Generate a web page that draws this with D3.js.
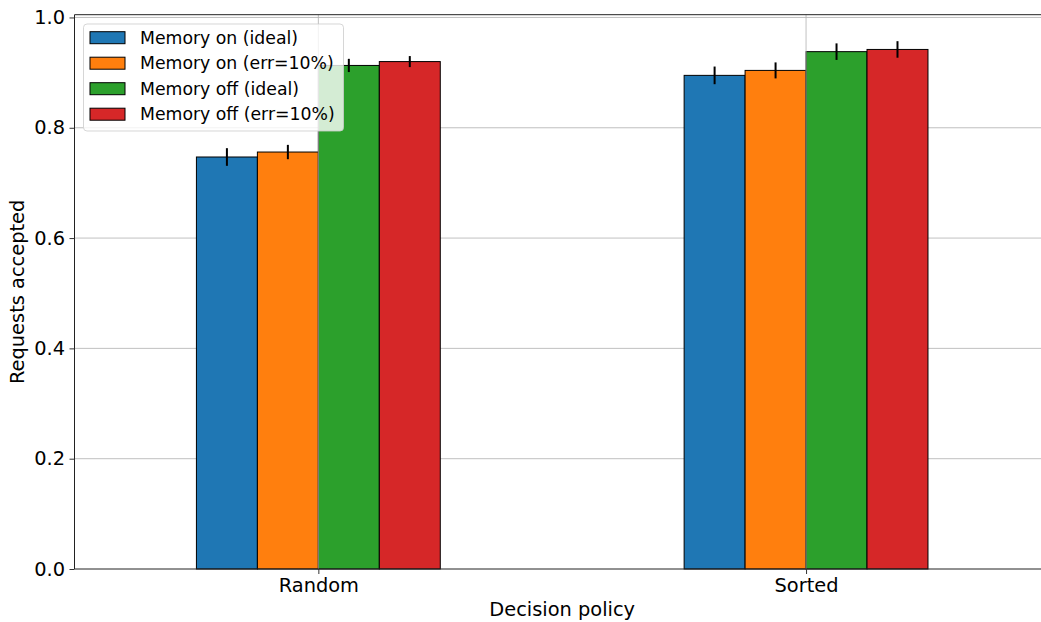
<!DOCTYPE html>
<html>
<head>
<meta charset="utf-8">
<script src="https://cdn.jsdelivr.net/npm/d3@7"></script>
<style>
  html, body { margin: 0; padding: 0; background: #fff; }
  svg { display: block; font-family: "DejaVu Sans", sans-serif; }
</style>
</head>
<body>
<svg id="chart" width="1041" height="622"></svg>
<script>
// Acceptance ratio per decision policy, with standard-deviation error bars
const categories = ["Random", "Sorted"];
const seriesNames = ["Memory on (ideal)", "Memory on (err=10%)", "Memory off (ideal)", "Memory off (err=10%)"];
const seriesColors = ["#1f77b4", "#ff7f0e", "#2ca02c", "#d62728"];

const memoryOnIdeal = [0.747, 0.895];
const memoryOnErr10 = [0.756, 0.904];
const memoryOffIdeal = [0.913, 0.938];
const memoryOffErr10 = [0.920, 0.942];

const memoryOnIdealStd = [0.016, 0.016];
const memoryOnErr10Std = [0.013, 0.0145];
const memoryOffIdealStd = [0.012, 0.015];
const memoryOffErr10Std = [0.010, 0.015];

const yTicks = [0.0, 0.2, 0.4, 0.6, 0.8, 1.0];

const seriesValues = [memoryOnIdeal, memoryOnErr10, memoryOffIdeal, memoryOffErr10];
const seriesStd = [memoryOnIdealStd, memoryOnErr10Std, memoryOffIdealStd, memoryOffErr10Std];

const svg = d3.select("#chart");

// Axes box (right edge extends beyond the visible canvas)
const plot = { left: 74.5, right: 1049.9, top: 14.7, bottom: 569 };

const x = d3.scaleLinear().domain([-0.5, categories.length - 0.5]).range([plot.left, plot.right]);
const y = d3.scaleLinear().domain([0, 1.005]).range([plot.bottom, plot.top]);

const barWidth = 0.125;
const groupStart = -0.25;

// Horizontal grid, behind the bars
svg.append("g")
  .selectAll("line")
  .data(yTicks.filter(t => t > 0))
  .join("line")
  .attr("x1", plot.left).attr("x2", plot.right)
  .attr("y1", d => y(d)).attr("y2", d => y(d))
  .attr("stroke", "#b0b0b0").attr("stroke-width", 0.8);

// Bars
const rows = [];
seriesValues.forEach((vals, s) => {
  vals.forEach((v, c) => rows.push({ s, c, v, e: seriesStd[s][c] }));
});

const barX = d => x(d.c + groupStart + d.s * barWidth);
const barW = x(barWidth) - x(0);

svg.append("g")
  .selectAll("rect")
  .data(rows)
  .join("rect")
  .attr("x", barX)
  .attr("y", d => y(d.v))
  .attr("width", barW)
  .attr("height", d => y(0) - y(d.v))
  .attr("fill", d => seriesColors[d.s])
  .attr("stroke", "#000")
  .attr("stroke-width", 1);

// Error bars
svg.append("g")
  .selectAll("line")
  .data(rows)
  .join("line")
  .attr("x1", d => barX(d) + barW / 2)
  .attr("x2", d => barX(d) + barW / 2)
  .attr("y1", d => y(d.v - d.e))
  .attr("y2", d => y(d.v + d.e))
  .attr("stroke", "#000")
  .attr("stroke-width", 2);

// Vertical grid at the category positions
svg.append("g")
  .selectAll("line")
  .data(categories.map((_, i) => i))
  .join("line")
  .attr("x1", d => x(d)).attr("x2", d => x(d))
  .attr("y1", plot.top).attr("y2", plot.bottom)
  .attr("stroke", "#b0b0b0").attr("stroke-width", 0.8);

// Spines
svg.append("line").attr("x1", plot.left).attr("x2", plot.left).attr("y1", plot.top).attr("y2", plot.bottom)
  .attr("stroke", "#222").attr("stroke-width", 1);
svg.append("line").attr("x1", plot.left).attr("x2", plot.right).attr("y1", plot.bottom).attr("y2", plot.bottom)
  .attr("stroke", "#222").attr("stroke-width", 1);
svg.append("line").attr("x1", plot.left).attr("x2", plot.right).attr("y1", plot.top).attr("y2", plot.top)
  .attr("stroke", "#222").attr("stroke-width", 1);

// Y axis
const yAxis = svg.append("g")
  .attr("transform", `translate(${plot.left},0)`)
  .call(d3.axisLeft(y).tickValues(yTicks).tickFormat(d3.format(".1f")).tickSize(5).tickPadding(4.5));
yAxis.select(".domain").remove();
yAxis.selectAll(".tick line").attr("stroke", "#333");
yAxis.selectAll(".tick text").attr("font-size", 19.4).attr("fill", "#000")
  .attr("font-family", "DejaVu Sans, sans-serif");

// X axis with category labels
const xAxis = svg.append("g")
  .attr("transform", `translate(0,${plot.bottom})`)
  .call(d3.axisBottom(x).tickValues(categories.map((_, i) => i)).tickFormat(i => categories[i]).tickSize(5).tickPadding(4.5));
xAxis.select(".domain").remove();
xAxis.selectAll(".tick line").attr("stroke", "#333");
xAxis.selectAll(".tick text").attr("font-size", 19.4).attr("fill", "#000")
  .attr("font-family", "DejaVu Sans, sans-serif");

// Axis titles
svg.append("text")
  .attr("x", x(0.5)).attr("y", 616)
  .attr("text-anchor", "middle")
  .attr("font-size", 19.4)
  .text("Decision policy");

svg.append("text")
  .attr("transform", `translate(24,${(plot.top + plot.bottom) / 2}) rotate(-90)`)
  .attr("text-anchor", "middle")
  .attr("font-size", 19.4)
  .text("Requests accepted");

// Legend
const legend = svg.append("g").attr("transform", "translate(83.5,24)");
legend.append("rect")
  .attr("width", 260).attr("height", 107)
  .attr("rx", 3.5).attr("ry", 3.5)
  .attr("fill", "#fff").attr("fill-opacity", 0.8)
  .attr("stroke", "#ccc").attr("stroke-opacity", 0.8).attr("stroke-width", 1);

const items = legend.selectAll("g.item")
  .data(seriesNames)
  .join("g")
  .attr("class", "item")
  .attr("transform", (d, i) => `translate(0,${13.7 + i * 25.5})`);

items.append("rect")
  .attr("x", 6.5).attr("y", -6)
  .attr("width", 35).attr("height", 12)
  .attr("fill", (d, i) => seriesColors[i])
  .attr("stroke", "#000").attr("stroke-width", 1);

items.append("text")
  .attr("x", 56.5).attr("y", 6)
  .attr("font-size", 17.3)
  .text(d => d);
</script>
</body>
</html>
